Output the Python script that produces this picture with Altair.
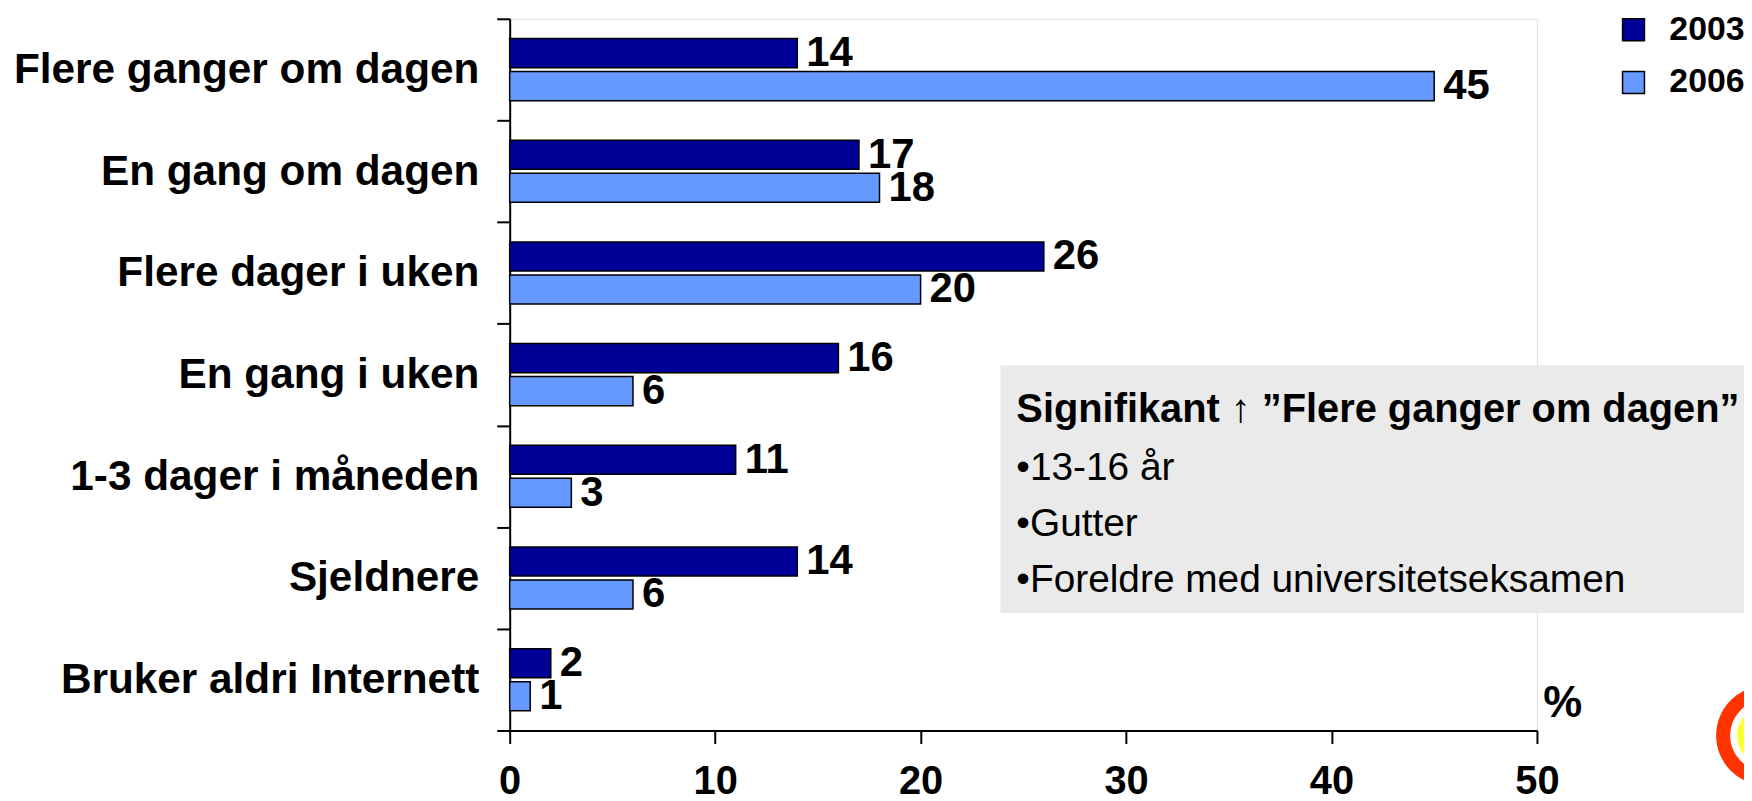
import altair as alt
import pandas as pd

categories = ["Flere ganger om dagen", "En gang om dagen", "Flere dager i uken",
              "En gang i uken", "1-3 dager i måneden", "Sjeldnere", "Bruker aldri Internett"]
years = ["2003", "2006"]
v2003 = [14, 17, 26, 16, 11, 14, 2]
v2006 = [45, 18, 20, 6, 3, 6, 1]
x_ticks = [0, 10, 20, 30, 40, 50]
colors = ["#000099", "#6699FF"]

box_title = "Signifikant \u2191 \u201dFlere ganger om dagen\u201d"
box_lines = ["\u202213-16 år", "\u2022Gutter", "\u2022Foreldre med universitetseksamen"]
unit_label = "%"

rows = []
for c, a, b in zip(categories, v2003, v2006):
    rows.append({"cat": c, "year": years[0], "val": a})
    rows.append({"cat": c, "year": years[1], "val": b})
df = pd.DataFrame(rows)

BOLD = "'Liberation Sans', Arial, sans-serif"

W, H = 1032, 715

base = alt.Chart(df).encode(
    y=alt.Y("cat:N", sort=categories, title=None,
            scale=alt.Scale(paddingInner=0, paddingOuter=0),
            axis=alt.Axis(tickBand="extent", tickSize=13, labelPadding=18,
                          labelFontSize=42.5, labelFontWeight="bold", labelFont=BOLD,
                          labelColor="black", domainColor="black", tickColor="black",
                          domainWidth=2, tickWidth=2, labelLimit=600)),
    yOffset=alt.YOffset("year:N", sort=years,
                        scale=alt.Scale(paddingInner=0.12, paddingOuter=0.6)),
)

bars = base.mark_bar(stroke="black", strokeWidth=1.5).encode(
    x=alt.X("val:Q", title=None,
            scale=alt.Scale(domain=[0, 50], nice=False),
            axis=alt.Axis(values=x_ticks, tickSize=13, labelPadding=18,
                          labelFontSize=40, labelFontWeight="bold", labelFont=BOLD,
                          labelColor="black", domainColor="black", tickColor="black",
                          domainWidth=2, tickWidth=2, grid=False, labelFlush=False)),
    color=alt.Color("year:N", sort=years, scale=alt.Scale(domain=years, range=colors),
                    legend=alt.Legend(title=None, orient="none", legendX=1112, legendY=-6,
                                      symbolType="square", symbolSize=484,
                                      symbolStrokeColor="black", symbolStrokeWidth=1.5,
                                      symbolOpacity=1,
                                      labelFontSize=34, labelFontWeight="bold", labelFont=BOLD,
                                      labelColor="black", labelOffset=19, rowPadding=19,
                                      padding=0)),
)

labels = base.mark_text(align="left", baseline="middle", dx=9, fontSize=42,
                        fontWeight="bold", font=BOLD, color="black").encode(
    x="val:Q", text="val:Q")

box = alt.Chart(pd.DataFrame({"t": [box_title]})).mark_rect(color="#EAEAEA").encode(
    x=alt.value(493), x2=alt.value(1240), y=alt.value(348), y2=alt.value(597))

title_txt = alt.Chart(pd.DataFrame({"t": [box_title]})).mark_text(
    align="left", baseline="alphabetic", fontSize=40, fontWeight="bold", font=BOLD,
    color="black").encode(x=alt.value(509), y=alt.value(405), text="t:N")

line_layers = []
for ln, yy in zip(box_lines, [463, 520, 576]):
    line_layers.append(
        alt.Chart(pd.DataFrame({"t": [ln]})).mark_text(
            align="left", baseline="alphabetic", fontSize=39, font=BOLD,
            color="black").encode(x=alt.value(509), y=alt.value(yy), text="t:N"))

pct = alt.Chart(pd.DataFrame({"t": [unit_label]})).mark_text(
    align="center", baseline="middle", fontSize=44, fontWeight="bold", font=BOLD,
    color="black").encode(x=alt.value(1058), y=alt.value(688), text="t:N")

ring = alt.Chart(pd.DataFrame({"t": [0]})).mark_arc(
    innerRadius=36, outerRadius=50, theta=0, theta2=6.2832, color="#FF3300").encode(
    x=alt.value(1262), y=alt.value(720))
sun = alt.Chart(pd.DataFrame({"t": [0]})).mark_arc(
    innerRadius=0, outerRadius=29, theta=0, theta2=6.2832, color="#FFFF33").encode(
    x=alt.value(1262), y=alt.value(720))

chart = alt.layer(bars, labels, box, title_txt, *line_layers, pct, ring, sun).properties(
    width=W, height=H,
    autosize=alt.AutoSizeParams(type="none"),
    padding={"left": 504, "top": 9, "right": 208, "bottom": 69},
).configure_view(stroke=None).configure(background="white")

chart.save("out.html", embed_options={"renderer": "svg", "actions": False})
